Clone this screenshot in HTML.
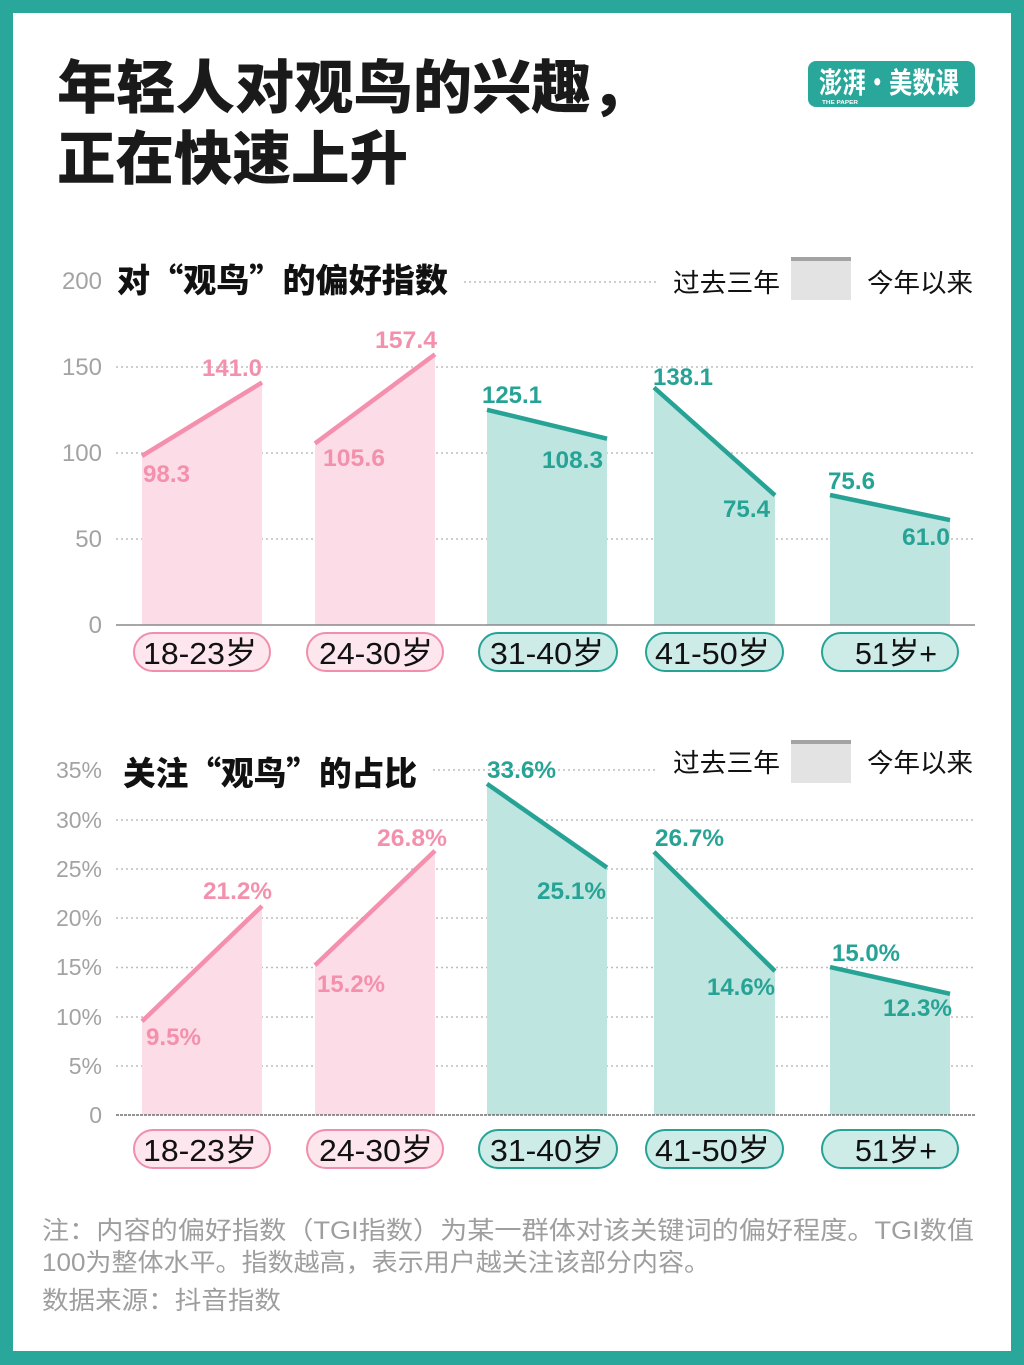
<!DOCTYPE html>
<html><head><meta charset="utf-8"><style>
html,body{margin:0;padding:0;background:#29a79a;}
svg{display:block;}
.cjk{font-family:"Noto Sans CJK SC","WenQuanYi Zen Hei",sans-serif;}
.num{font-family:"Liberation Sans",Arial,sans-serif;}
</style></head><body>
<svg width="1024" height="1365" viewBox="0 0 1024 1365" xmlns="http://www.w3.org/2000/svg">
<rect x="0" y="0" width="1024" height="1365" fill="#29a79a"/>
<rect x="13" y="13" width="998" height="1338" fill="#ffffff"/>

<!-- Main title -->
<text class="cjk" x="57" y="108" font-size="58" font-weight="900" fill="#1a1a1a" textLength="593" lengthAdjust="spacingAndGlyphs">年轻人对观鸟的兴趣，</text>
<text class="cjk" x="57" y="179" font-size="58" font-weight="900" fill="#1a1a1a" textLength="351" lengthAdjust="spacingAndGlyphs">正在快速上升</text>

<!-- Logo -->
<rect x="808" y="61" width="167" height="46" rx="8" fill="#29a79a"/>
<text class="cjk" x="819" y="93" font-size="29" font-weight="700" fill="#ffffff" textLength="140" lengthAdjust="spacingAndGlyphs">澎湃·美数课</text>
<text class="num" x="822" y="104" font-size="5" font-weight="700" fill="#ffffff" textLength="36" lengthAdjust="spacingAndGlyphs">THE PAPER</text>

<!-- ================= Chart 1 ================= -->
<g class="num" font-size="24" fill="#a3a3a3" text-anchor="end">
<text x="102" y="289">200</text>
<text x="102" y="375">150</text>
<text x="102" y="461">100</text>
<text x="102" y="547">50</text>
<text x="102" y="633">0</text>
</g>
<text class="cjk" x="117" y="292" font-size="33" font-weight="900" fill="#111" textLength="331" lengthAdjust="spacingAndGlyphs">对“观鸟”的偏好指数</text>
<line x1="464" y1="282" x2="657" y2="282" stroke="#bdbdbd" stroke-width="1.5" stroke-dasharray="2 3"/>
<text class="cjk" x="673" y="292" font-size="26" fill="#111" textLength="107" lengthAdjust="spacingAndGlyphs">过去三年</text>
<rect x="791" y="257" width="60" height="43" fill="#e3e3e3"/>
<rect x="791" y="257" width="60" height="4" fill="#a3a3a3"/>
<text class="cjk" x="867" y="292" font-size="26" fill="#111" textLength="106" lengthAdjust="spacingAndGlyphs">今年以来</text>

<g stroke="#bdbdbd" stroke-width="1.5" stroke-dasharray="2 3">
<line x1="116" y1="367" x2="975" y2="367"/>
<line x1="116" y1="453" x2="975" y2="453"/>
<line x1="116" y1="539" x2="975" y2="539"/>
</g>

<!-- fills -->
<polygon points="142,455.9 262,382.5 262,625 142,625" fill="#fcdce6"/>
<polygon points="315,443.4 435,354.3 435,625 315,625" fill="#fcdce6"/>
<polygon points="487,409.8 607,438.7 607,625 487,625" fill="#bee5e0"/>
<polygon points="654,387.5 775,495.3 775,625 654,625" fill="#bee5e0"/>
<polygon points="830,495 950,520.1 950,625 830,625" fill="#bee5e0"/>
<line x1="116" y1="625" x2="975" y2="625" stroke="#8a8a8a" stroke-width="1.5"/>
<!-- lines -->
<g stroke-width="4.5" fill="none">
<line x1="142" y1="455.9" x2="262" y2="382.5" stroke="#f490ae"/>
<line x1="315" y1="443.4" x2="435" y2="354.3" stroke="#f490ae"/>
<line x1="487" y1="409.8" x2="607" y2="438.7" stroke="#27a396"/>
<line x1="654" y1="387.5" x2="775" y2="495.3" stroke="#27a396"/>
<line x1="830" y1="495" x2="950" y2="520.1" stroke="#27a396"/>
</g>
<!-- labels -->
<g class="num" font-size="24" font-weight="700">
<text x="143" y="482" fill="#f391ad" textLength="47" lengthAdjust="spacingAndGlyphs">98.3</text>
<text x="202" y="376" fill="#f391ad" textLength="60" lengthAdjust="spacingAndGlyphs">141.0</text>
<text x="323" y="466" fill="#f391ad" textLength="62" lengthAdjust="spacingAndGlyphs">105.6</text>
<text x="375" y="348" fill="#f391ad" textLength="62" lengthAdjust="spacingAndGlyphs">157.4</text>
<text x="482" y="403" fill="#27a396" textLength="60" lengthAdjust="spacingAndGlyphs">125.1</text>
<text x="542" y="468" fill="#27a396" textLength="61" lengthAdjust="spacingAndGlyphs">108.3</text>
<text x="653" y="385" fill="#27a396" textLength="60" lengthAdjust="spacingAndGlyphs">138.1</text>
<text x="723" y="517" fill="#27a396" textLength="47" lengthAdjust="spacingAndGlyphs">75.4</text>
<text x="828" y="489" fill="#27a396" textLength="47" lengthAdjust="spacingAndGlyphs">75.6</text>
<text x="902" y="545" fill="#27a396" textLength="48" lengthAdjust="spacingAndGlyphs">61.0</text>
</g>
<!-- pills -->
<g stroke-width="2">
<rect x="134" y="633" width="136" height="38" rx="19" fill="#fde6ee" stroke="#f08fab"/>
<rect x="307" y="633" width="136" height="38" rx="19" fill="#fde6ee" stroke="#f08fab"/>
<rect x="479" y="633" width="138" height="38" rx="19" fill="#cdebe7" stroke="#27a396"/>
<rect x="646" y="633" width="137" height="38" rx="19" fill="#cdebe7" stroke="#27a396"/>
<rect x="822" y="633" width="136" height="38" rx="19" fill="#cdebe7" stroke="#27a396"/>
</g>
<g font-family="Liberation Sans, Noto Sans CJK SC, sans-serif" font-size="31" fill="#111">
<text x="143" y="664" textLength="114" lengthAdjust="spacingAndGlyphs">18-23岁</text>
<text x="319" y="664" textLength="114" lengthAdjust="spacingAndGlyphs">24-30岁</text>
<text x="490" y="664" textLength="114" lengthAdjust="spacingAndGlyphs">31-40岁</text>
<text x="655" y="664" textLength="115" lengthAdjust="spacingAndGlyphs">41-50岁</text>
<text x="855" y="664" textLength="82" lengthAdjust="spacingAndGlyphs">51岁+</text>
</g>

<!-- ================= Chart 2 ================= -->
<g class="num" font-size="23" fill="#a3a3a3" text-anchor="end">
<text x="102" y="778">35%</text>
<text x="102" y="828">30%</text>
<text x="102" y="877">25%</text>
<text x="102" y="926">20%</text>
<text x="102" y="975">15%</text>
<text x="102" y="1025">10%</text>
<text x="102" y="1074">5%</text>
<text x="102" y="1123">0</text>
</g>
<text class="cjk" x="123" y="785" font-size="33" font-weight="900" fill="#111" textLength="294" lengthAdjust="spacingAndGlyphs">关注“观鸟”的占比</text>
<line x1="433" y1="770" x2="655" y2="770" stroke="#bdbdbd" stroke-width="1.5" stroke-dasharray="2 3"/>
<text class="cjk" x="673" y="772" font-size="26" fill="#111" textLength="107" lengthAdjust="spacingAndGlyphs">过去三年</text>
<rect x="791" y="740" width="60" height="43" fill="#e3e3e3"/>
<rect x="791" y="740" width="60" height="4" fill="#a3a3a3"/>
<text class="cjk" x="867" y="772" font-size="26" fill="#111" textLength="106" lengthAdjust="spacingAndGlyphs">今年以来</text>

<g stroke="#bdbdbd" stroke-width="1.5" stroke-dasharray="2 3">
<line x1="116" y1="820" x2="975" y2="820"/>
<line x1="116" y1="869" x2="975" y2="869"/>
<line x1="116" y1="918" x2="975" y2="918"/>
<line x1="116" y1="967.5" x2="975" y2="967.5"/>
<line x1="116" y1="1017" x2="975" y2="1017"/>
<line x1="116" y1="1066" x2="975" y2="1066"/>
</g>

<polygon points="142,1021.4 262,906 262,1115 142,1115" fill="#fcdce6"/>
<polygon points="315,965.2 435,850.8 435,1115 315,1115" fill="#fcdce6"/>
<polygon points="487,783.8 607,867.6 607,1115 487,1115" fill="#bee5e0"/>
<polygon points="654,851.8 775,971.1 775,1115 654,1115" fill="#bee5e0"/>
<polygon points="830,967.1 950,993.8 950,1115 830,1115" fill="#bee5e0"/>
<line x1="116" y1="1115" x2="975" y2="1115" stroke="#555" stroke-width="1.2" stroke-dasharray="3 1"/>
<g stroke-width="4.5" fill="none">
<line x1="142" y1="1021.4" x2="262" y2="906" stroke="#f490ae"/>
<line x1="315" y1="965.2" x2="435" y2="850.8" stroke="#f490ae"/>
<line x1="487" y1="783.8" x2="607" y2="867.6" stroke="#27a396"/>
<line x1="654" y1="851.8" x2="775" y2="971.1" stroke="#27a396"/>
<line x1="830" y1="967.1" x2="950" y2="993.8" stroke="#27a396"/>
</g>
<g class="num" font-size="24" font-weight="700">
<text x="146" y="1045" fill="#f391ad" textLength="55" lengthAdjust="spacingAndGlyphs">9.5%</text>
<text x="203" y="899" fill="#f391ad" textLength="69" lengthAdjust="spacingAndGlyphs">21.2%</text>
<text x="317" y="992" fill="#f391ad" textLength="68" lengthAdjust="spacingAndGlyphs">15.2%</text>
<text x="377" y="846" fill="#f391ad" textLength="70" lengthAdjust="spacingAndGlyphs">26.8%</text>
<text x="487" y="778" fill="#27a396" textLength="69" lengthAdjust="spacingAndGlyphs">33.6%</text>
<text x="537" y="899" fill="#27a396" textLength="69" lengthAdjust="spacingAndGlyphs">25.1%</text>
<text x="655" y="846" fill="#27a396" textLength="69" lengthAdjust="spacingAndGlyphs">26.7%</text>
<text x="707" y="995" fill="#27a396" textLength="68" lengthAdjust="spacingAndGlyphs">14.6%</text>
<text x="832" y="961" fill="#27a396" textLength="68" lengthAdjust="spacingAndGlyphs">15.0%</text>
<text x="883" y="1016" fill="#27a396" textLength="69" lengthAdjust="spacingAndGlyphs">12.3%</text>
</g>
<g stroke-width="2">
<rect x="134" y="1130" width="136" height="38" rx="19" fill="#fde6ee" stroke="#f08fab"/>
<rect x="307" y="1130" width="136" height="38" rx="19" fill="#fde6ee" stroke="#f08fab"/>
<rect x="479" y="1130" width="138" height="38" rx="19" fill="#cdebe7" stroke="#27a396"/>
<rect x="646" y="1130" width="137" height="38" rx="19" fill="#cdebe7" stroke="#27a396"/>
<rect x="822" y="1130" width="136" height="38" rx="19" fill="#cdebe7" stroke="#27a396"/>
</g>
<g font-family="Liberation Sans, Noto Sans CJK SC, sans-serif" font-size="31" fill="#111">
<text x="143" y="1161" textLength="114" lengthAdjust="spacingAndGlyphs">18-23岁</text>
<text x="319" y="1161" textLength="114" lengthAdjust="spacingAndGlyphs">24-30岁</text>
<text x="490" y="1161" textLength="114" lengthAdjust="spacingAndGlyphs">31-40岁</text>
<text x="655" y="1161" textLength="115" lengthAdjust="spacingAndGlyphs">41-50岁</text>
<text x="855" y="1161" textLength="82" lengthAdjust="spacingAndGlyphs">51岁+</text>
</g>

<!-- Footnote -->
<g font-family="Liberation Sans, Noto Sans CJK SC, sans-serif" font-size="25" fill="#9e9e9e">
<text x="42" y="1239" textLength="932" lengthAdjust="spacingAndGlyphs">注：内容的偏好指数（TGI指数）为某一群体对该关键词的偏好程度。TGI数值</text>
<text x="42" y="1271" textLength="668" lengthAdjust="spacingAndGlyphs">100为整体水平。指数越高，表示用户越关注该部分内容。</text>
<text x="42" y="1309" textLength="239" lengthAdjust="spacingAndGlyphs">数据来源：抖音指数</text>
</g>
</svg>
</body></html>
